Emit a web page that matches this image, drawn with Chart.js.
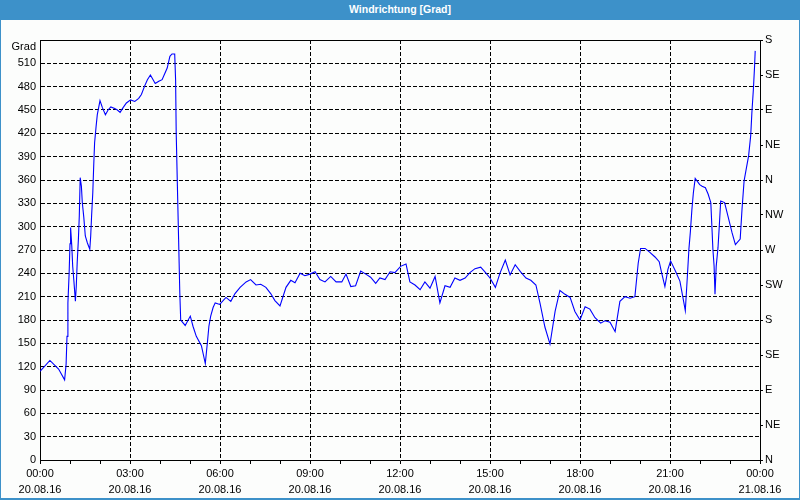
<!DOCTYPE html>
<html>
<head>
<meta charset="utf-8">
<script src="https://cdn.jsdelivr.net/npm/chart.js@4.4.1/dist/chart.umd.min.js"></script>
<style>
  html, body { margin: 0; padding: 0; background: #fff; }
  #wrap { position: relative; width: 800px; height: 500px; background: #fcfdfc; overflow: hidden; }
  #bar { position: absolute; left: 0; top: 0; width: 800px; height: 20px; background: #3d91c9; color: #fff;
         font: bold 10.5px "Liberation Sans", Arial, sans-serif; text-align: center; line-height: 19px; }
  #frame { position: absolute; left: 0; top: 0; width: 800px; height: 500px; box-sizing: border-box;
           border-left: 1px solid #3d91c9; border-right: 1px solid #3d91c9; border-bottom: 2px solid #3d91c9; pointer-events: none; }
  canvas { position: absolute; left: 0; top: 0; }
</style>
</head>
<body>
<div id="wrap">
  <canvas id="wind" width="800" height="500"></canvas>
  <div id="bar">Windrichtung [Grad]</div>
  <div id="frame"></div>
</div>
<script>
// Stunden seit 20.08.16 00:00
const hours = [
    0.0, 0.33, 0.62, 0.82, 0.87, 0.9, 0.93, 0.97, 1.0, 1.02, 1.06, 1.09, 1.13, 1.18, 1.21, 1.24, 1.28, 1.31, 1.34, 1.38,
    1.41, 1.46, 1.51, 1.58, 1.66, 1.69, 1.72, 1.76, 1.79, 1.82, 1.87, 1.91, 2.0, 2.08, 2.18, 2.27, 2.36, 2.49, 2.58, 2.67,
    2.77, 2.88, 3.02, 3.16, 3.29, 3.38, 3.49, 3.58, 3.68, 3.77, 3.84, 3.96, 4.07, 4.16, 4.24, 4.33, 4.4, 4.49, 4.52, 4.54,
    4.58, 4.62, 4.66, 4.69, 4.84, 5.01, 5.1, 5.21, 5.38, 5.51, 5.58, 5.63, 5.69, 5.77, 5.84, 5.99, 6.2, 6.36, 6.5, 6.67,
    6.87, 7.02, 7.2, 7.36, 7.53, 7.69, 7.83, 8.0, 8.2, 8.36, 8.5, 8.67, 8.83, 9.0, 9.17, 9.33, 9.5, 9.69, 9.87, 10.06,
    10.2, 10.36, 10.52, 10.69, 10.86, 11.02, 11.19, 11.33, 11.5, 11.67, 11.83, 12.02, 12.2, 12.33, 12.5, 12.67, 12.83, 13.0, 13.17, 13.33,
    13.5, 13.67, 13.83, 14.0, 14.17, 14.33, 14.5, 14.69, 14.83, 15.0, 15.18, 15.33, 15.51, 15.67, 15.84, 16.02, 16.2, 16.36, 16.53, 16.67,
    16.83, 17.0, 17.17, 17.33, 17.5, 17.67, 17.83, 18.0, 18.17, 18.33, 18.5, 18.69, 18.83, 19.0, 19.17, 19.33, 19.5, 19.67, 19.83, 19.94,
    20.02, 20.17, 20.33, 20.5, 20.64, 20.72, 20.83, 20.93, 21.02, 21.18, 21.33, 21.43, 21.51, 21.58, 21.63, 21.68, 21.73, 21.78, 21.84, 21.99,
    22.07, 22.18, 22.27, 22.36, 22.4, 22.43, 22.47, 22.5, 22.54, 22.6, 22.64, 22.69, 22.82, 22.93, 23.07, 23.18, 23.34, 23.4, 23.47, 23.54,
    23.62, 23.69, 23.73, 23.78, 23.82, 23.84
];
// Windrichtung in Grad
const degrees = [
    114, 128, 117, 103, 123, 159, 202, 239, 278, 299, 275, 249, 230, 204, 224, 254, 284, 314, 363, 352,
    331, 312, 288, 279, 271, 288, 314, 344, 378, 408, 429, 444, 462, 453, 444, 450, 454, 452, 450, 447,
    453, 459, 463, 461, 465, 470, 481, 489, 495, 489, 484, 487, 489, 497, 504, 519, 522, 522, 489, 421,
    352, 284, 215, 180, 173, 185, 172, 159, 147, 124, 151, 172, 185, 196, 202, 200, 209, 204, 214, 222,
    229, 232, 225, 226, 222, 214, 205, 198, 222, 231, 228, 240, 237, 239, 242, 232, 229, 236, 229, 229,
    239, 223, 224, 243, 239, 235, 227, 234, 232, 242, 241, 249, 252, 229, 225, 219, 229, 221, 236, 202,
    224, 222, 234, 231, 234, 241, 246, 248, 242, 234, 222, 240, 257, 238, 251, 242, 234, 231, 225, 201,
    171, 149, 191, 218, 213, 209, 191, 180, 197, 194, 183, 176, 179, 177, 165, 204, 210, 208, 210, 253,
    272, 272, 267, 261, 255, 241, 223, 245, 256, 243, 230, 209, 192, 237, 271, 294, 322, 344, 362, 354,
    352, 350, 342, 331, 297, 271, 249, 213, 249, 273, 299, 333, 331, 314, 292, 277, 284, 322, 359, 374,
    391, 417, 447, 477, 507, 526
];

const timeLabels = ["00:00", "03:00", "06:00", "09:00", "12:00", "15:00", "18:00", "21:00", "00:00"];
const dateLabels = ["20.08.16", "20.08.16", "20.08.16", "20.08.16", "20.08.16", "20.08.16", "20.08.16", "20.08.16", "21.08.16"];
const compassLabels = ["N", "NE", "E", "SE", "S", "SW", "W", "NW", "N", "NE", "E", "SE", "S"];

Chart.defaults.font.family = "'Liberation Sans', Arial, sans-serif";
Chart.defaults.font.size = 11;
Chart.defaults.color = "#000";

// obere Rahmenlinie
const topFrame = {
    id: "topFrame",
    afterDraw: function (chart) {
        const a = chart.chartArea;
        const ctx = chart.ctx;
        ctx.save();
        ctx.strokeStyle = "#000";
        ctx.lineWidth = 1;
        ctx.beginPath();
        ctx.moveTo(a.left, Math.round(a.top) + 0.5);
        ctx.lineTo(a.right + 1, Math.round(a.top) + 0.5);
        ctx.stroke();
        ctx.restore();
    }
};

new Chart(document.getElementById("wind"), {
    type: "line",
    data: {
        datasets: [{
            data: hours.map((h, i) => ({ x: h, y: degrees[i] })),
            borderColor: "#0000ff",
            borderWidth: 1.1,
            pointRadius: 0,
            tension: 0,
            fill: false,
            yAxisID: "y"
        }]
    },
    options: {
        responsive: false,
        animation: false,
        layout: { padding: { top: 40, left: 0, right: 0, bottom: 0 } },
        plugins: {
            legend: { display: false },
            tooltip: { enabled: false },
            title: { display: false }
        },
        scales: {
            x: {
                type: "linear",
                min: 0,
                max: 24,
                afterFit: function (s) { s.height = 40; },
                ticks: {
                    stepSize: 1,
                    autoSkip: false,
                    maxRotation: 0,
                    padding: 2,
                    font: { size: 11, lineHeight: 1.45 },
                    callback: function (v) {
                        return v % 3 === 0 ? [timeLabels[v / 3], dateLabels[v / 3]] : "";
                    }
                },
                grid: {
                    color: function (c) {
                        return c.tick && c.tick.value % 3 === 0 ? "#000" : "rgba(0,0,0,0)";
                    },
                    tickColor: "#000",
                    tickLength: 4
                },
                border: { color: "#000", dash: [4, 2] }
            },
            y: {
                min: 0,
                max: 540,
                afterFit: function (s) { s.width = 40; },
                ticks: {
                    stepSize: 30,
                    autoSkip: false,
                    padding: 4,
                    callback: function (v) { return v === 540 ? ["", "Grad"] : v; }
                },
                grid: { color: "#000", drawTicks: false },
                border: { color: "#000", dash: [4, 2] }
            },
            y2: {
                position: "right",
                min: 0,
                max: 540,
                afterFit: function (s) { s.width = 40; },
                ticks: {
                    stepSize: 45,
                    autoSkip: false,
                    padding: 2,
                    callback: function (v) { return compassLabels[v / 45]; }
                },
                grid: { drawOnChartArea: false, tickLength: 3, tickColor: "#000" },
                border: { color: "#000" }
            }
        }
    },
    plugins: [topFrame]
});
</script>
</body>
</html>
